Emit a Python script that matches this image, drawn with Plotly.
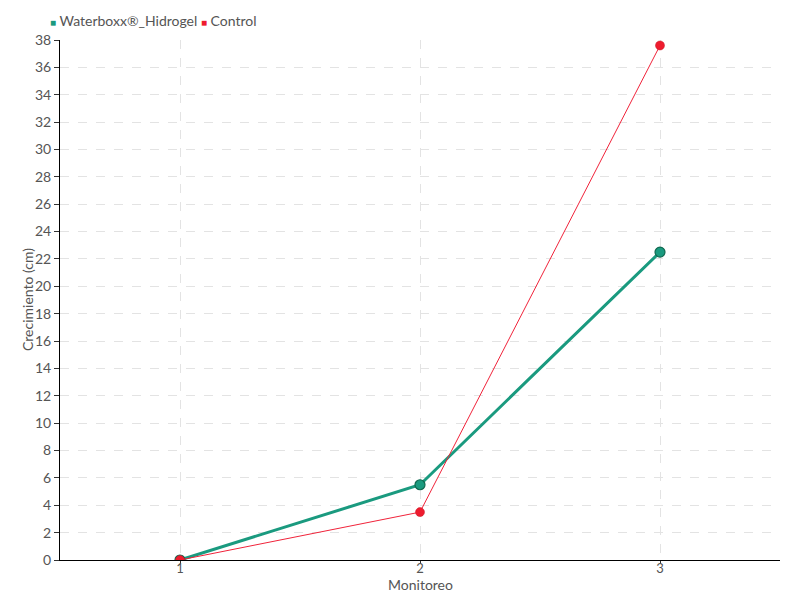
import plotly.graph_objects as go

monitoreo = [1, 2, 3]
waterboxx = [0, 5.5, 22.5]
control = [0, 3.5, 37.6]
y_ticks = list(range(0, 39, 2))
series_names = ["Waterboxx®_Hidrogel", "Control"]
x_title = "Monitoreo"
y_title = "Crecimiento (cm)"

font_family = "Lato, sans-serif"
green = "#1a9a7f"
red = "#ee1c2e"

fig = go.Figure()
fig.add_trace(go.Scatter(
    x=monitoreo, y=waterboxx, name=series_names[0], mode="lines+markers",
    line=dict(color=green, width=3),
    marker=dict(size=10, color=green, line=dict(color="#11684f", width=1.2)),
))
fig.add_trace(go.Scatter(
    x=monitoreo, y=control, name=series_names[1], mode="lines+markers",
    line=dict(color="#f0233a", width=1),
    marker=dict(size=9, color=red, line=dict(color="#c81525", width=0.5)),
))

legend_text = (
    f'<span style="color:{green};font-size:10px">■</span> {series_names[0]} '
    f'<span style="color:{red};font-size:10px">■</span> {series_names[1]}'
)
fig.add_annotation(
    text=legend_text, xref="paper", yref="paper", x=-0.016, y=1.0,
    xanchor="left", yanchor="bottom", yshift=9, showarrow=False,
    font=dict(size=14, color="#555555", family=font_family),
)
# axis titles placed close to the axes, as in the original
fig.add_annotation(
    text=y_title, xref="paper", yref="paper", x=0, y=0.5, xshift=-33,
    xanchor="center", yanchor="middle", textangle=-90, showarrow=False,
    font=dict(size=14, color="#555555", family=font_family),
)
fig.add_annotation(
    text=x_title, xref="paper", yref="paper", x=0.5, y=0, yshift=-24,
    xanchor="center", yanchor="middle", showarrow=False,
    font=dict(size=14, color="#555555", family=font_family),
)

fig.update_layout(
    width=792, height=592,
    margin=dict(l=52, r=20, t=32, b=40),
    paper_bgcolor="white", plot_bgcolor="white",
    font=dict(family=font_family, size=14, color="#555555"),
    showlegend=False,
    xaxis=dict(
        range=[0.5, 3.5], tickvals=monitoreo, ticktext=[str(m) for m in monitoreo],
        showline=True, linecolor="black", linewidth=1,
        ticks="outside", ticklen=3, tickcolor="#333",
        ticklabelstandoff=-7, tickfont=dict(size=13),
        showgrid=True, gridcolor="#e3e3e3", griddash="dash", gridwidth=1,
        zeroline=False,
    ),
    yaxis=dict(
        range=[0, 38], tickvals=y_ticks,
        showline=True, linecolor="black", linewidth=1,
        ticks="outside", ticklen=5, tickcolor="#333",
        tickfont=dict(size=14),
        showgrid=True, gridcolor="#e3e3e3", griddash="dash", gridwidth=1,
        zeroline=False,
    ),
)

fig.write_html("out.html")
